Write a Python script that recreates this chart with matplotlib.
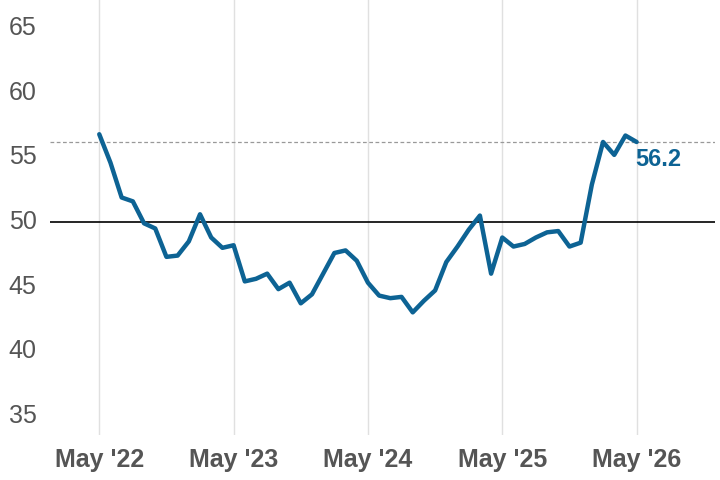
import matplotlib
matplotlib.use("Agg")
import matplotlib.pyplot as plt
import numpy as np

plt.rcParams['font.family'] = ['Liberation Sans', 'DejaVu Sans']

values = [56.8,54.6,51.9,51.6,49.9,49.5,47.3,47.4,48.5,50.6,48.8,48.0,
          48.2,45.4,45.6,46.0,44.8,45.3,43.7,44.4,46.0,47.6,47.8,47.0,
          45.3,44.3,44.1,44.2,43.0,43.9,44.7,46.9,48.1,49.4,50.5,46.0,
          48.8,48.1,48.3,48.8,49.2,49.3,48.1,48.4,52.9,56.2,55.2,56.7,56.2]
xticks_labels = ["May '22", "May '23", "May '24", "May '25", "May '26"]
yticks = [35, 40, 45, 50, 55, 60, 65]
last_label = "56.2"

blue = "#0d6394"
grey = "#555555"
fig = plt.figure(figsize=(7.2, 4.8), dpi=100)
ax = fig.add_axes([50/720, 45/480, 665/720, 435/480])
x = np.arange(len(values))
ax.plot(x, values, color=blue, lw=3.2, solid_capstyle="round", zorder=3)
ax.axhline(50, color="black", lw=1.2, zorder=2)
ax.axhline(values[-1], color="#999999", lw=0.9, ls=(0, (3, 2)), zorder=2)
ax.text(x[-1] - 0.1, values[-1] - 0.5, last_label, color=blue, fontsize=17,
        fontweight="bold", va="top", ha="left")
ax.set_xlim(-4.4, 55)
ax.set_ylim(33.5, 67.2)
ax.set_xticks(x[::12])
ax.set_xticklabels(xticks_labels)
ax.set_yticks(yticks)
for t in yticks:
    ax.text(-0.062, t, str(t), transform=ax.get_yaxis_transform(), ha="left", va="center",
            fontsize=18, color=grey)
ax.set_yticklabels([])
ax.tick_params(axis="y", length=0)
ax.tick_params(axis="x", length=0, pad=9, labelsize=18, labelcolor=grey)
for lab in ax.get_xticklabels():
    lab.set_fontweight("bold")
ax.grid(axis="x", color="#e0e0e0", lw=1)
for s in ax.spines.values():
    s.set_visible(False)
fig.savefig("out.png", dpi=100)
